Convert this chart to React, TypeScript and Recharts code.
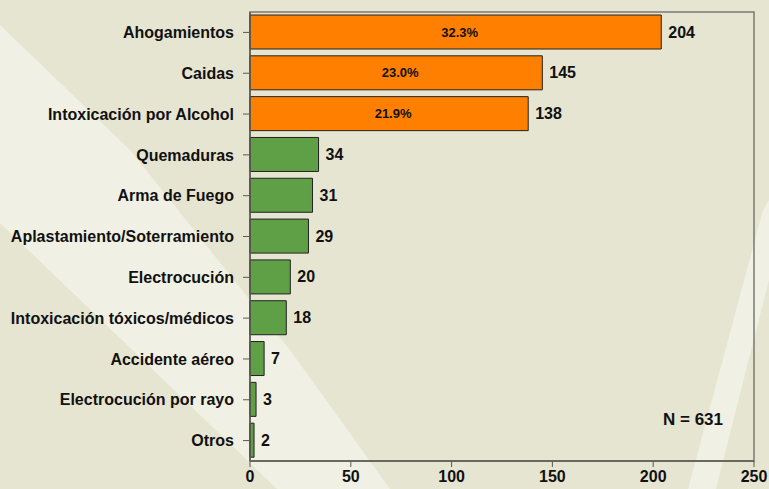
import React from "react";
import {
  BarChart,
  Bar,
  XAxis,
  YAxis,
  Cell,
  LabelList,
  ReferenceArea,
} from "recharts";

const categories = [
  "Ahogamientos",
  "Caidas",
  "Intoxicación por Alcohol",
  "Quemaduras",
  "Arma de Fuego",
  "Aplastamiento/Soterramiento",
  "Electrocución",
  "Intoxicación tóxicos/médicos",
  "Accidente aéreo",
  "Electrocución por rayo",
  "Otros",
];

const totals = [204, 145, 138, 34, 31, 29, 20, 18, 7, 3, 2];

const percentLabels = ["32.3%", "23.0%", "21.9%", "", "", "", "", "", "", "", ""];

const xTicks = [0, 50, 100, 150, 200, 250];

const data = categories.map((name, i) => ({
  name,
  total: totals[i],
  pct: percentLabels[i],
}));

const W = 769;
const H = 489;
const font = "'Liberation Sans', Arial, sans-serif";
const axisColor = "#5a5a50";

// fondo con franjas diagonales
const Background = () => (
  <svg width={W} height={H} style={{ position: "absolute", left: 0, top: 0 }}>
    <rect x={0} y={0} width={W} height={H} fill="#e6e5d1" />
    <polygon
      points="0,25 130,150 290,350 390,489 277,489 0,223"
      fill="#f0f0e4"
    />
    <polygon points="688,489 716,489 769,280 769,200 763,210" fill="#f0f0e4" />
  </svg>
);

// valor a la derecha de la barra
const ValueLabel = (props: any) => {
  const { x, y, width, height, value } = props;
  return (
    <text
      x={Number(x) + Number(width) + 7}
      y={Number(y) + Number(height) / 2}
      dominantBaseline="central"
      fill="#111"
      fontSize={16}
      fontWeight="bold"
      fontFamily={font}
    >
      {value}
    </text>
  );
};

// porcentaje centrado dentro de la barra
const PctLabel = (props: any) => {
  const { x, y, width, height, value } = props;
  if (!value) return null;
  return (
    <text
      x={Number(x) + Number(width) / 2 + 4}
      y={Number(y) + Number(height) / 2}
      textAnchor="middle"
      dominantBaseline="central"
      fill="#111"
      fontSize={13}
      fontWeight="bold"
      fontFamily={font}
    >
      {value}
    </text>
  );
};

export default function App() {
  return (
    <div style={{ position: "absolute", left: 0, top: 0, width: W, height: H, fontFamily: font }}>
      <Background />
      <div style={{ position: "absolute", left: 0, top: 0 }}>
        <BarChart
          width={W}
          height={H}
          data={data}
          layout="vertical"
          margin={{ top: 12, right: 15, left: 0, bottom: 0 }}
        >
          <ReferenceArea x1={0} x2={250} fill="none" stroke="#7a7a70" strokeWidth={1.5} />
          <XAxis
            type="number"
            domain={[0, 250]}
            ticks={xTicks}
            height={28}
            axisLine={{ stroke: axisColor, strokeWidth: 1.5 }}
            tickLine={{ stroke: axisColor }}
            tickSize={6}
            tickMargin={4}
            tick={{ fill: "#111", fontSize: 16, fontWeight: "bold", fontFamily: font }}
          />
          <YAxis
            type="category"
            dataKey="name"
            width={250}
            axisLine={{ stroke: axisColor, strokeWidth: 1.5 }}
            tickLine={{ stroke: axisColor }}
            tickSize={7}
            tickMargin={9}
            interval={0}
            tick={{ fill: "#111", fontSize: 16, fontWeight: "bold", fontFamily: font }}
          />
          <Bar dataKey="total" barSize={34} stroke="#222" strokeWidth={1} isAnimationActive={false}>
            {data.map((d, i) => (
              <Cell key={i} fill={i < 3 ? "#ff8000" : "#5f9f45"} />
            ))}
            <LabelList dataKey="total" content={<ValueLabel />} />
            <LabelList dataKey="pct" content={<PctLabel />} />
          </Bar>
        </BarChart>
      </div>
      <div
        style={{
          position: "absolute",
          left: 663,
          top: 410,
          lineHeight: "20px",
          fontSize: 17,
          fontWeight: "bold",
          color: "#111",
          fontFamily: font,
        }}
      >
        N = 631
      </div>
    </div>
  );
}
